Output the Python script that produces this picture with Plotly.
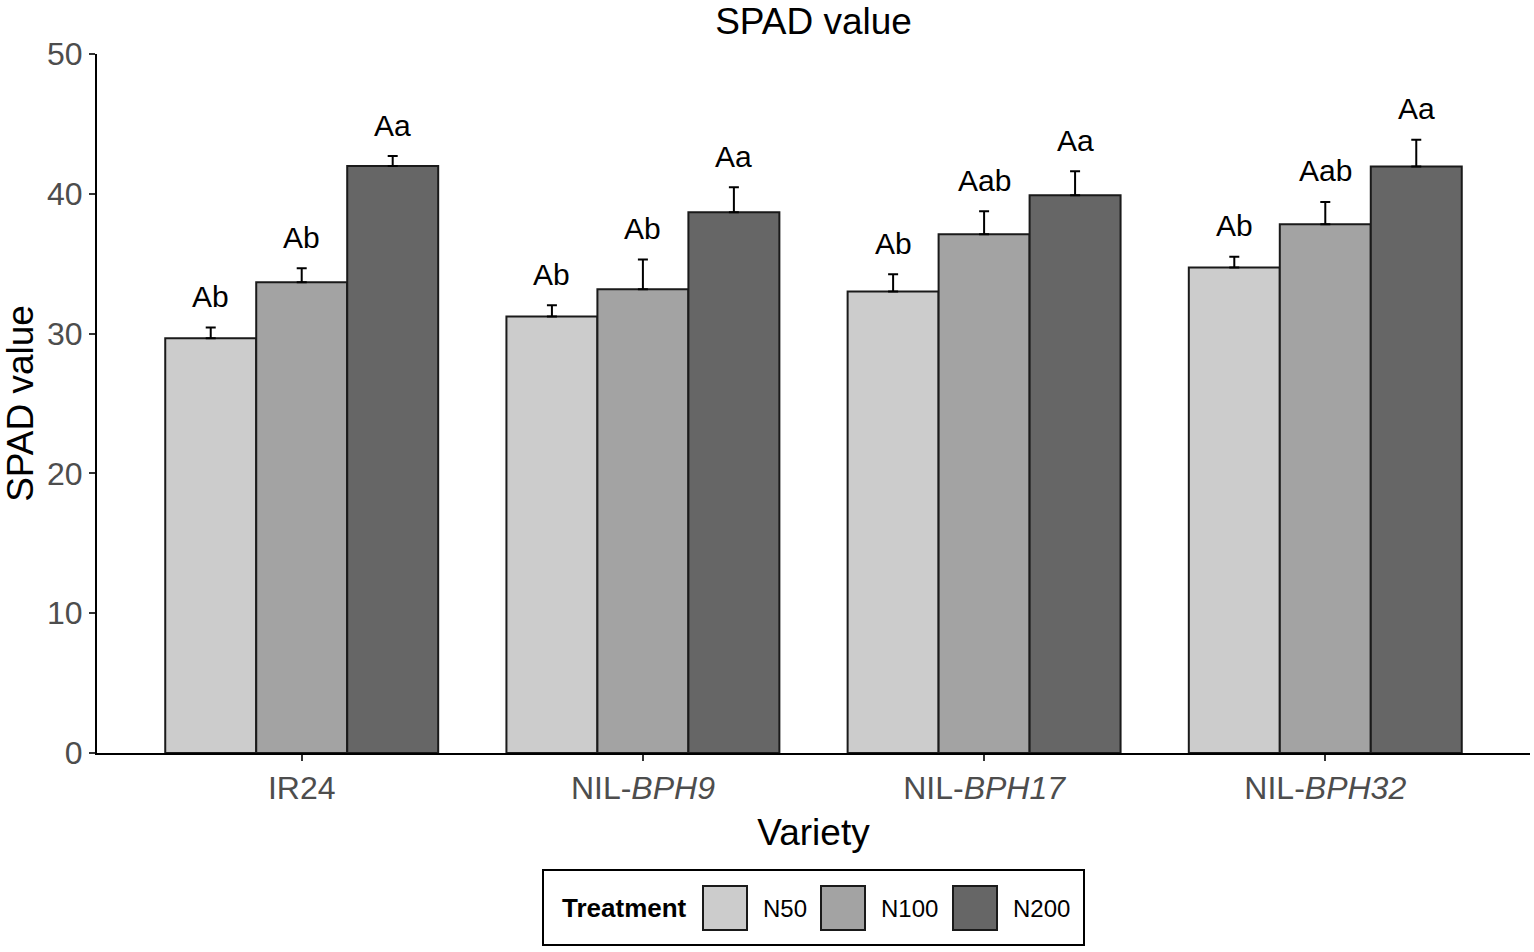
import plotly.graph_objects as go

varieties = ["IR24", "NIL-<i>BPH9</i>", "NIL-<i>BPH17</i>", "NIL-<i>BPH32</i>"]
treatments = ["N50", "N100", "N200"]
colors = ["#CCCCCC", "#A3A3A3", "#666666"]

means = {
    "N50": [29.66, 31.23, 33.02, 34.72],
    "N100": [33.67, 33.17, 37.10, 37.82],
    "N200": [41.98, 38.68, 39.90, 41.96],
}
ses = {
    "N50": [0.78, 0.79, 1.22, 0.78],
    "N100": [1.00, 2.13, 1.65, 1.60],
    "N200": [0.72, 1.79, 1.72, 1.90],
}
letters = {
    "N50": ["Ab", "Ab", "Ab", "Ab"],
    "N100": ["Ab", "Ab", "Aab", "Aab"],
    "N200": ["Aa", "Aa", "Aa", "Aa"],
}

xpos = list(range(len(varieties)))
font = "Liberation Sans, Arial, sans-serif"

# plot area in pixels (for placing the hand-drawn legend)
L, R, T, B = 97, 1530, 54, 753
def px(p):
    return (p - L) / (R - L)
def py(p):
    return (B - p) / (B - T)

fig = go.Figure()
for t, c in zip(treatments, colors):
    fig.add_trace(go.Bar(
        x=xpos, y=means[t], name=t, showlegend=False,
        marker=dict(color=c, line=dict(color="#1a1a1a", width=2)),
        error_y=dict(type="data", array=ses[t], symmetric=False, arrayminus=[0]*len(xpos),
                     color="#000000", thickness=2, width=5),
    ))

bw = 0.8 / len(treatments)
for j, t in enumerate(treatments):
    off = (j - (len(treatments) - 1) / 2) * bw
    for i in xpos:
        fig.add_annotation(
            x=i + off, y=means[t][i] + ses[t][i], text=letters[t][i],
            showarrow=False, yanchor="middle", yshift=31,
            font=dict(family=font, size=30, color="#000000"),
        )

# legend (ggplot style, large keys)
shapes = [dict(type="rect", xref="paper", yref="paper",
               x0=px(543), x1=px(1084), y0=py(870), y1=py(945),
               line=dict(color="#000000", width=2), fillcolor="white", layer="below")]
fig.add_annotation(xref="paper", yref="paper", x=px(560), y=py(908), xanchor="left", yanchor="middle",
                   text="<b>Treatment</b>", showarrow=False,
                   font=dict(family=font, size=26, color="#000000"))
key_x = [703, 821, 953]
for t, c, kx in zip(treatments, colors, key_x):
    shapes.append(dict(type="rect", xref="paper", yref="paper",
                       x0=px(kx), x1=px(kx + 44), y0=py(930), y1=py(886),
                       line=dict(color="#1a1a1a", width=2), fillcolor=c))
    fig.add_annotation(xref="paper", yref="paper", x=px(kx + 58), y=py(908), xanchor="left",
                       yanchor="middle", text=t, showarrow=False,
                       font=dict(family=font, size=24, color="#000000"))

fig.update_layout(
    width=1534, height=952,
    margin=dict(l=L, r=1534 - R, t=T, b=952 - B),
    paper_bgcolor="white", plot_bgcolor="white",
    barmode="group", bargap=0.2, bargroupgap=0,
    showlegend=False,
    shapes=shapes,
    title=dict(text="SPAD value", x=(L + R) / 2 / 1534, xanchor="center",
               y=1 - 21 / 952, yanchor="middle",
               font=dict(family=font, size=37, color="#000000")),
    font=dict(family=font),
    xaxis=dict(
        range=[-0.6, 3.6], tickvals=xpos, ticktext=varieties,
        showline=True, linecolor="#000000", linewidth=2,
        ticks="outside", ticklen=6, tickwidth=2, tickcolor="#333333",
        tickfont=dict(family=font, size=32, color="#4D4D4D"),
        title=dict(text="Variety", font=dict(family=font, size=37, color="#000000"), standoff=14),
        showgrid=False, zeroline=False, automargin=False,
    ),
    yaxis=dict(
        range=[0, 50], tickvals=[0, 10, 20, 30, 40, 50],
        showline=True, linecolor="#000000", linewidth=2,
        ticks="outside", ticklen=6, tickwidth=2, tickcolor="#333333",
        tickfont=dict(family=font, size=32, color="#4D4D4D"),
        title=dict(text="SPAD value", font=dict(family=font, size=37, color="#000000"), standoff=10),
        showgrid=False, zeroline=False, automargin=False,
    ),
)

fig.write_html("out.html", config={"displayModeBar": False},
               post_script="document.body.style.margin='0';document.body.style.overflow='hidden';")
